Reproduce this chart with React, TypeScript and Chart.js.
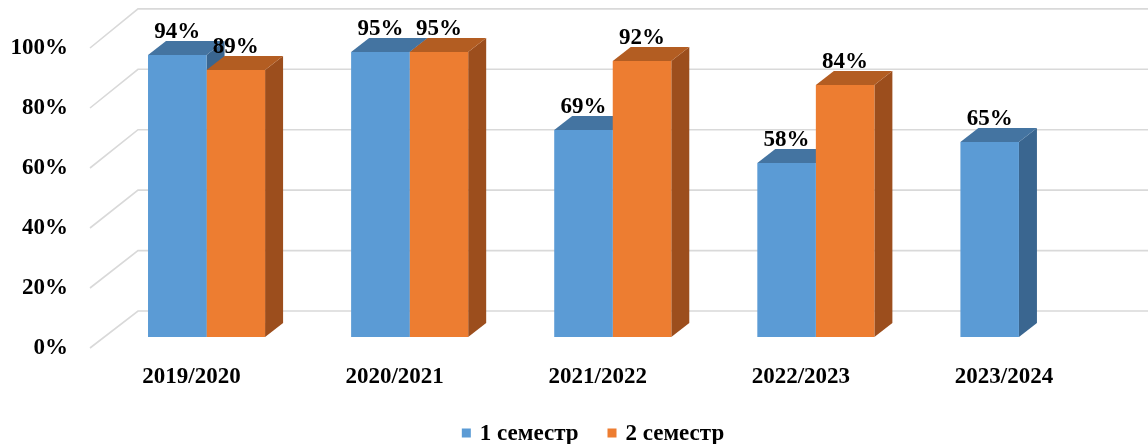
import React, { useEffect, useRef } from "react";
import { Chart, registerables } from "chart.js";

Chart.register(...registerables);

const categories = ["2019/2020", "2020/2021", "2021/2022", "2022/2023", "2023/2024"];
const semester1 = [94, 95, 69, 58, 65];
const semester2: (number | null)[] = [89, 95, 92, 84, null];
const seriesNames = ["1 семестр", "2 семестр"];
const yTicks = [0, 20, 40, 60, 80, 100];

const FONT = "'Times New Roman', 'Liberation Serif', serif";
const FRONT = ["#5B9BD5", "#ED7D31"];
const TOP = ["#4474A1", "#B35D22"];
const SIDE = ["#3A6690", "#9C4E1D"];
const DX = 18;
const DY = 14;

const threeD = {
  id: "threeD",
  beforeDatasetsDraw(chart: any) {
    const ctx = chart.ctx;
    const ys = chart.scales.y;
    const area = chart.chartArea;
    const y0 = ys.getPixelForValue(0);
    ctx.save();
    ctx.strokeStyle = "#D9D9D9";
    ctx.lineWidth = 1.6;
    yTicks.forEach((v) => {
      const yb = ys.getPixelForValue(v);
      const yf = yb + 11;
      const yk = yb - 26 - (y0 - yb) * 0.007;
      ctx.beginPath();
      ctx.moveTo(area.left - 15, yf);
      ctx.lineTo(area.left + 33, yk);
      ctx.lineTo(chart.width, yk);
      ctx.stroke();
    });
    ctx.restore();
    chart.data.datasets.forEach((ds: any, di: number) => {
      const meta = chart.getDatasetMeta(di);
      meta.data.forEach((el: any, i: number) => {
        const v = ds.data[i];
        if (v === null || v === undefined) return;
        const { x, y, base, width } = el.getProps(["x", "y", "base", "width"], true);
        const l = x - width / 2;
        const r = x + width / 2;
        ctx.save();
        ctx.fillStyle = SIDE[di];
        ctx.beginPath();
        ctx.moveTo(r, base);
        ctx.lineTo(r + DX, base - DY);
        ctx.lineTo(r + DX, y - DY);
        ctx.lineTo(r, y);
        ctx.closePath();
        ctx.fill();
        ctx.fillStyle = TOP[di];
        ctx.beginPath();
        ctx.moveTo(l, y);
        ctx.lineTo(l + DX, y - DY);
        ctx.lineTo(r + DX, y - DY);
        ctx.lineTo(r, y);
        ctx.closePath();
        ctx.fill();
        ctx.restore();
      });
    });
  },
  afterDatasetsDraw(chart: any) {
    const ctx = chart.ctx;
    ctx.save();
    ctx.font = `bold 23px ${FONT}`;
    ctx.fillStyle = "#000000";
    ctx.textAlign = "center";
    ctx.textBaseline = "alphabetic";
    chart.data.datasets.forEach((ds: any, di: number) => {
      const meta = chart.getDatasetMeta(di);
      meta.data.forEach((el: any, i: number) => {
        const v = ds.data[i];
        if (v === null || v === undefined) return;
        const { x, y } = el.getProps(["x", "y"], true);
        ctx.fillText(`${v}%`, x, y - 17);
      });
    });
    ctx.restore();
  },
  afterDraw(chart: any) {
    const ctx = chart.ctx;
    ctx.save();
    ctx.font = `bold 23px ${FONT}`;
    ctx.textBaseline = "middle";
    ctx.textAlign = "left";
    const box = 9;
    const gapBox = 9;
    const gapItem = 29;
    const widths = seriesNames.map((n) => ctx.measureText(n).width);
    let total = 0;
    widths.forEach((w, i) => {
      total += box + gapBox + w + (i < widths.length - 1 ? gapItem : 0);
    });
    let x = 593 - total / 2;
    const cy = 433;
    seriesNames.forEach((n, i) => {
      ctx.fillStyle = FRONT[i];
      ctx.fillRect(x, cy - box / 2, box, box);
      x += box + gapBox;
      ctx.fillStyle = "#000000";
      ctx.fillText(n, x, cy + 1);
      x += widths[i] + gapItem;
    });
    ctx.restore();
  },
};

export default function App() {
  const ref = useRef<HTMLCanvasElement | null>(null);
  useEffect(() => {
    if (!ref.current) return;
    const chart = new Chart(ref.current, {
      type: "bar",
      data: {
        labels: categories,
        datasets: [
          { label: seriesNames[0], data: semester1, backgroundColor: FRONT[0], borderWidth: 0 },
          { label: seriesNames[1], data: semester2, backgroundColor: FRONT[1], borderWidth: 0 },
        ],
      },
      options: {
        animation: false,
        responsive: false,
        maintainAspectRatio: false,
        layout: { padding: { top: 37, right: 27.5, left: 0, bottom: 0 } },
        datasets: { bar: { barPercentage: 1, categoryPercentage: 0.5764 } },
        plugins: { legend: { display: false }, tooltip: { enabled: false } },
        scales: {
          x: {
            grid: { display: false, drawTicks: false },
            border: { display: false },
            ticks: {
              font: { family: FONT, size: 23, weight: "bold" },
              color: "#000000",
              padding: 26,
              labelOffset: -15,
              maxRotation: 0,
            },
            afterFit: (s: any) => {
              s.height = 107;
              s.paddingLeft = 0;
              s.paddingRight = 0;
            },
          },
          y: {
            min: 0,
            max: 100,
            grid: { display: false, drawTicks: false },
            border: { display: false },
            ticks: {
              stepSize: 20,
              font: { family: FONT, size: 23, weight: "bold" },
              color: "#000000",
              padding: 37,
              labelOffset: 11,
              callback: (v: any) => `${v}%`,
            },
            afterFit: (s: any) => {
              s.width = 105;
              s.paddingTop = 0;
              s.paddingBottom = 0;
            },
          },
        },
      },
      plugins: [threeD],
    });
    return () => chart.destroy();
  }, []);
  return (
    <div style={{ position: "fixed", left: 0, top: 0, width: 1148, height: 444, background: "#fff" }}>
      <canvas ref={ref} width={1148} height={444} style={{ width: 1148, height: 444, display: "block" }} />
    </div>
  );
}
